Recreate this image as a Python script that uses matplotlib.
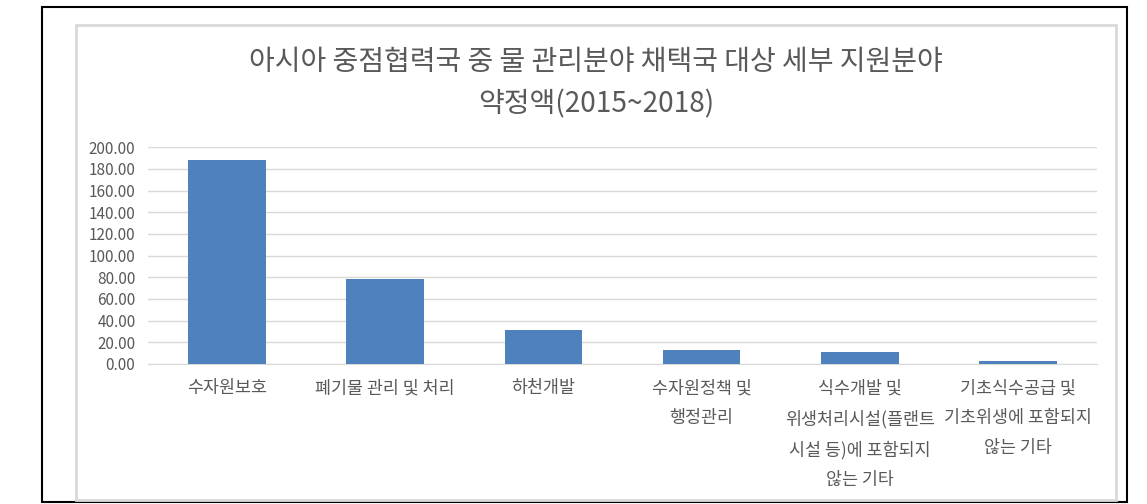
import matplotlib
matplotlib.use('Agg')
import matplotlib.pyplot as plt
from matplotlib.patches import Rectangle
from matplotlib.ticker import FormatStrFormatter

plt.rcParams['font.family'] = ['Noto Sans CJK KR', 'DejaVu Sans']

categories = ['수자원보호', '폐기물 관리 및 처리', '하천개발',
              '수자원정책 및\n행정관리',
              '식수개발 및\n위생처리시설(플랜트\n시설 등)에 포함되지\n않는 기타',
              '기초식수공급 및\n기초위생에 포함되지\n않는 기타']
values = [188.0, 78.5, 31.5, 13.0, 11.5, 2.8]
yticks = [0, 20, 40, 60, 80, 100, 120, 140, 160, 180, 200]
title = '아시아 중점협력국 중 물 관리분야 채택국 대상 세부 지원분야\n약정액(2015~2018)'

W, H = 1147, 504
fig = plt.figure(figsize=(W / 100, H / 100), dpi=100)

def px(x0, y0, x1, y1):
    # pixel box (top-left origin) -> figure fraction rect
    return [x0 / W, 1 - y1 / H, (x1 - x0) / W, (y1 - y0) / H]

# outer black frame and inner gray chart border
r = px(42, 7, 1127, 502)
fig.patches.append(Rectangle((r[0], r[1]), r[2], r[3], transform=fig.transFigure,
                             fill=False, edgecolor='black', linewidth=1.5))
r = px(76, 25, 1116, 500)
fig.patches.append(Rectangle((r[0], r[1]), r[2], r[3], transform=fig.transFigure,
                             fill=False, edgecolor='#d9d9d9', linewidth=2))

ax = fig.add_axes(px(148, 147.3, 1097, 364))
x = range(len(categories))
ax.bar(x, values, width=0.49, color='#4f81bd', zorder=3)
ax.set_xlim(-0.5, len(categories) - 0.5)
ax.set_ylim(0, 200)
ax.set_yticks(yticks)
ax.yaxis.set_major_formatter(FormatStrFormatter('%.2f'))
ax.set_xticks(list(x))
ax.set_xticklabels(categories, linespacing=1.85)
ax.grid(axis='y', color='#d9d9d9', linewidth=1, zorder=0)
for s in ['top', 'right', 'left']:
    ax.spines[s].set_visible(False)
ax.spines['bottom'].set_color('#d9d9d9')
ax.tick_params(axis='y', length=0, pad=9, labelsize=11, labelcolor='#595959')
ax.tick_params(axis='x', length=0, pad=11, labelsize=12.5, labelcolor='#595959')
for t in ax.get_xticklabels():
    t.set_verticalalignment('top')

fig.text(596 / W, 1 - 83 / H, title, ha='center', va='center', fontsize=20.2,
         color='#595959', linespacing=1.55)

fig.savefig('out.png', dpi=100)
